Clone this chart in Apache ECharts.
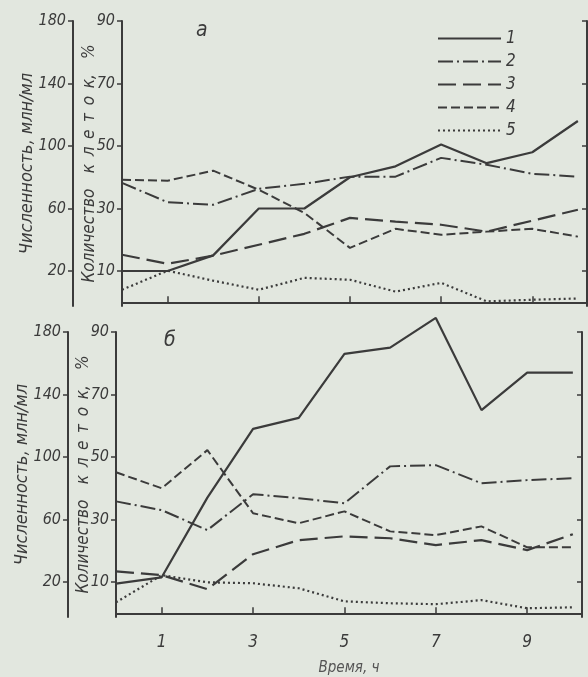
<!DOCTYPE html>
<html><head><meta charset="utf-8">
<script src="https://cdn.jsdelivr.net/npm/echarts@6/dist/echarts.min.js"></script>
<style>html,body{margin:0;padding:0;background:#e2e7df}#c{width:588px;height:677px}</style>
</head><body><div id="c"></div>
<script>
// ---- data (time in hours) ----
const hours = [0,1,2,3,4,5,6,7,8,9,10];
const xTicks = [1,3,5,7,9];
const pctTicks = [10,30,50,70,90];
const cntTicks = [20,60,100,140,180];
const seriesNames = ['1','2','3','4','5'];
const panelLabels = ['а','б'];

// panel а
const a1 = [20, 20, 30, 60, 60, 80, 87, 101, 89, 96, 116];          // млн/мл
const a2 = [38.2, 32, 31.2, 36.3, 37.9, 40.2, 40.2, 46.2, 44, 41.1, 40.2]; // %
const a3 = [15.2, 12.3, 14.9, 18.4, 21.9, 27, 25.8, 24.8, 22.6, 26.1, 29.6];
const a4 = [39.2, 38.9, 42.1, 36, 28.6, 17.4, 23.5, 21.6, 22.6, 23.5, 21];
const a5 = [4, 10.1, 6.9, 4, 7.8, 7.2, 3.4, 6.2, 0.3, 0.8, 1.2];

// panel б
const b1 = [19, 23, 74, 118, 125, 166, 170, 189, 130, 154, 154];       // млн/мл
const b2 = [35.8, 33, 26.6, 38.1, 36.8, 35.2, 47, 47.4, 41.6, 42.6, 43.2]; // %
const b3 = [13.4, 12.2, 7.7, 18.9, 23.4, 24.6, 24, 21.8, 23.4, 20.2, 25.3];
const b4 = [45.1, 40, 52.2, 32, 28.8, 32.6, 26.2, 25, 27.8, 21.1, 21.1];
const b5 = [3.5, 12.2, 9.9, 9.6, 8, 3.8, 3.2, 2.9, 4.2, 1.6, 1.9];

// ---- styling ----
const ink = '#3b3b3b';
const font = "'Liberation Sans Narrow','DejaVu Sans Condensed','Liberation Sans',sans-serif";
const lineTypes = ['solid', [15,4,2,4], [18,7], [9,4], [2,3]];
const lineWidths = [2.2, 2, 2.2, 2, 2.2];
const pctName = 'Количество\u2003к\u2002л\u2002е\u2002т\u2002о\u2002к,\u2003%';
const cntName = 'Численность, млн/мл';

const chart = echarts.init(document.getElementById('c'), null, {renderer:'canvas'});
const pairs = (arr) => hours.map((h,i) => [h, arr[i]]);

const grids = [
  {left:122, right:1, top:21, height:285},
  {left:116, right:6, top:332, height:285}
];
const xAxes = [0,1].map(g => ({
  type:'value', gridIndex:g, min:0, max:10.2,
  axisLine:{lineStyle:{color:ink, width:2}},
  axisTick:{inside:true, length:6, customValues:xTicks, lineStyle:{color:ink, width:1.5}},
  axisLabel:{show:g===1, customValues:xTicks, margin:17, color:ink, fontSize:17, fontStyle:'italic', fontFamily:font},
  splitLine:{show:false},
  name: g===1 ? 'Время, ч' : '',
  nameLocation:'middle', nameGap:44, nameMoveOverlap:false,
  nameTextStyle:{color:'#555', fontSize:15, fontStyle:'italic', fontFamily:font}
}));
const yAxes = [];
[0,1].forEach(g => {
  yAxes.push({ // inner, percent
    type:'value', gridIndex:g, position:'left', min:-1.2, max:90,
    axisLine:{show:true, lineStyle:{color:ink, width:2}},
    axisTick:{show:true, length:5, customValues:pctTicks, lineStyle:{color:ink, width:1.5}},
    axisLabel:{customValues:pctTicks, margin:7, color:ink, fontSize:16, fontStyle:'italic', fontFamily:font},
    splitLine:{show:false},
    name:pctName, nameLocation:'middle', nameRotate:90, nameGap:24, nameMoveOverlap:false,
    nameTextStyle:{color:ink, fontSize:17, fontStyle:'italic', fontFamily:font}
  });
  yAxes.push({ // outer, count
    type:'value', gridIndex:g, position:'left', offset: g===0 ? 49 : 48, min:-2.4, max:180,
    axisLine:{show:true, lineStyle:{color:ink, width:2}},
    axisTick:{show:true, length:5, customValues:cntTicks, lineStyle:{color:ink, width:1.5}},
    axisLabel:{customValues:cntTicks, margin:7, color:ink, fontSize:16, fontStyle:'italic', fontFamily:font},
    splitLine:{show:false},
    name:cntName, nameLocation:'middle', nameRotate:90, nameGap:37, nameMoveOverlap:false,
    nameTextStyle:{color:ink, fontSize:18, fontStyle:'italic', fontFamily:font}
  });
  yAxes.push({ // right frame
    type:'value', gridIndex:g, position:'right', min:-1.2, max:90,
    axisLine:{show:true, lineStyle:{color:ink, width:2}},
    axisTick:{show:true, inside:true, length:5, customValues:pctTicks, lineStyle:{color:ink, width:1.5}},
    axisLabel:{show:false},
    splitLine:{show:false}
  });
});

const panels = [[a1,a2,a3,a4,a5],[b1,b2,b3,b4,b5]];
const series = [];
panels.forEach((set, g) => {
  set.forEach((arr, k) => {
    series.push({
      name: seriesNames[k], type:'line', xAxisIndex:g,
      yAxisIndex: g*3 + (k===0 ? 1 : 0),
      data: pairs(arr), symbol:'none', showSymbol:false, clip:false, animation:false,
      lineStyle:{color:ink, width:lineWidths[k], type:lineTypes[k]},
      itemStyle:{color:ink}
    });
  });
});

chart.setOption({
  backgroundColor:'#e2e7df',
  animation:false,
  grid:grids, xAxis:xAxes, yAxis:yAxes, series:series,
  legend:{
    data:seriesNames, orient:'vertical', left:432, top:25,
    itemWidth:63, itemHeight:12, itemGap:6,
    itemStyle:{opacity:0},
    textStyle:{color:ink, fontSize:17, lineHeight:14, fontStyle:'italic', fontFamily:font},
    selectedMode:false
  },
  graphic:[
    {type:'text', left:196, top:20, style:{text:panelLabels[0], fill:ink, font:"italic 21px "+font}},
    {type:'text', left:164, top:330, style:{text:panelLabels[1], fill:ink, font:"italic 21px "+font}}
  ]
});
</script></body></html>
